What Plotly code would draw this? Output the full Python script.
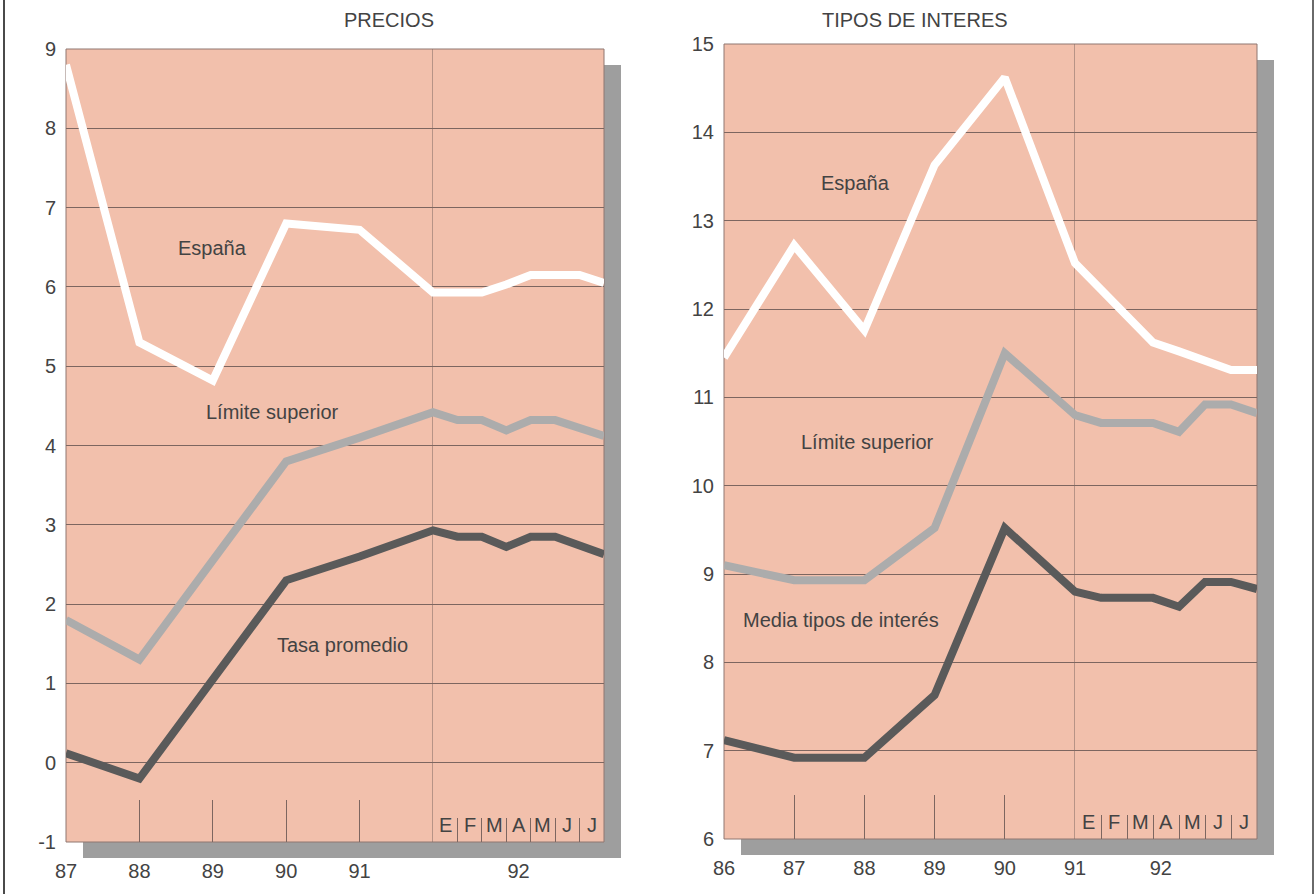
import plotly.graph_objects as go

# ---------------------------------------------------------------
# Data
# ---------------------------------------------------------------
meses = ["E", "F", "M", "A", "M", "J", "J"]

# PRECIOS: annual points (last one = start of 1992) and monthly 1992
precios_anios = [87, 88, 89, 90, 91, 92]
precios_etiquetas = ["87", "88", "89", "90", "91"]
precios_escala = [-1, 0, 1, 2, 3, 4, 5, 6, 7, 8, 9]
precios_espana_anual = [8.8, 5.3, 4.82, 6.8, 6.72, 5.93]
precios_espana_mes = [5.93, 5.93, 6.03, 6.15, 6.15, 6.15, 6.05]
precios_limite_anual = [1.8, 1.3, 2.55, 3.8, 4.1, 4.42]
precios_limite_mes = [4.32, 4.32, 4.19, 4.32, 4.32, 4.22, 4.12]
precios_tasa_anual = [0.12, -0.2, 1.05, 2.3, 2.6, 2.93]
precios_tasa_mes = [2.85, 2.85, 2.72, 2.85, 2.85, 2.74, 2.63]

# TIPOS DE INTERES
interes_anios = [86, 87, 88, 89, 90, 91]
interes_etiquetas = ["86", "87", "88", "89", "90", "91"]
interes_escala = [6, 7, 8, 9, 10, 11, 12, 13, 14, 15]
interes_espana_anual = [11.45, 12.72, 11.76, 13.63, 14.62, 12.52]
interes_espana_mes = [12.22, 11.92, 11.62, 11.52, 11.41, 11.31, 11.31]
interes_limite_anual = [9.1, 8.93, 8.93, 9.52, 11.5, 10.8]
interes_limite_mes = [10.71, 10.71, 10.71, 10.61, 10.92, 10.92, 10.82]
interes_media_anual = [7.12, 6.92, 6.92, 7.63, 9.52, 8.8]
interes_media_mes = [8.73, 8.73, 8.73, 8.63, 8.91, 8.91, 8.83]

# ---------------------------------------------------------------
# Styling / geometry
# ---------------------------------------------------------------
W, H = 1316, 894
FONT = "Liberation Sans, Arial, sans-serif"
TXT = "#434343"
SALMON = "#f2c0ac"
SHADOW = "#9e9e9e"
GRID = "#7d6660"
C_ESP = "#ffffff"
C_LIM = "#acacac"
C_MED = "#5a5a5a"
LW = 8


def fx(p):
    return p / W


def fy(p):
    return 1 - p / H


# panel pixel boxes: left, boundary (start of 1992), right, top, bottom
PANELS = {
    "L": dict(x0=66, xb=433, x1=604, y0=49, y1=842),
    "R": dict(x0=724, xb=1075, x1=1257, y0=44, y1=839),
}
SH_DX, SH_DY = 17, 16
N_YEARS = 5

fig = go.Figure()


def month_in_years(p):
    """Width of one month of the monthly section, in units of the annual axis."""
    return ((p["x1"] - p["xb"]) / len(meses)) / ((p["xb"] - p["x0"]) / N_YEARS)


def add_series(p, anios, anual, mes, color, xa, xm, ya):
    r = month_in_years(p)
    # annual section: carried one step into 1992 so the joint is drawn whole
    fig.add_trace(go.Scatter(
        x=anios + [anios[-1] + r], y=anual + [mes[0]],
        xaxis=xa, yaxis=ya, mode="lines",
        line=dict(color=color, width=LW), hoverinfo="skip", showlegend=False))
    # monthly section: starts from the previous annual point (clipped away)
    fig.add_trace(go.Scatter(
        x=[-1 / r, 0] + list(range(1, len(mes) + 1)),
        y=[anual[-2], anual[-1]] + mes,
        xaxis=xm, yaxis=ya, mode="lines",
        line=dict(color=color, width=LW), hoverinfo="skip", showlegend=False))


L, R = PANELS["L"], PANELS["R"]
add_series(L, precios_anios, precios_limite_anual, precios_limite_mes, C_LIM, "x", "x2", "y")
add_series(L, precios_anios, precios_tasa_anual, precios_tasa_mes, C_MED, "x", "x2", "y")
add_series(L, precios_anios, precios_espana_anual, precios_espana_mes, C_ESP, "x", "x2", "y")

add_series(R, interes_anios, interes_limite_anual, interes_limite_mes, C_LIM, "x3", "x4", "y2")
add_series(R, interes_anios, interes_media_anual, interes_media_mes, C_MED, "x3", "x4", "y2")
add_series(R, interes_anios, interes_espana_anual, interes_espana_mes, C_ESP, "x3", "x4", "y2")

tickfont = dict(family=FONT, size=20, color=TXT)


def annual_axis(p, anios, etiquetas, ya, ticklen):
    return dict(
        domain=[fx(p["x0"]), fx(p["xb"])], range=[anios[0], anios[0] + N_YEARS],
        anchor=ya, tickvals=anios[:len(etiquetas)], ticktext=etiquetas,
        ticks="inside", ticklen=ticklen, tickcolor=GRID, tickwidth=1,
        showgrid=False, zeroline=False, showline=False, automargin=False,
        tickfont=tickfont, ticklabelstandoff=15, fixedrange=True)


def month_axis(p, ya, pos92):
    return dict(
        domain=[fx(p["xb"]), fx(p["x1"])], range=[0, len(meses)],
        anchor=ya, tickvals=[pos92], ticktext=["92"], ticks="",
        minor=dict(tickvals=list(range(1, len(meses))), ticks="inside",
                   ticklen=24, tickcolor=GRID, tickwidth=1, showgrid=False),
        showgrid=False, zeroline=False, showline=False, automargin=False,
        tickfont=tickfont, ticklabelstandoff=15, fixedrange=True)


def value_axis(p, escala, xa):
    return dict(
        domain=[fy(p["y1"]), fy(p["y0"])], range=[escala[0], escala[-1]],
        anchor=xa, tickvals=escala, ticktext=[str(v) for v in escala],
        showgrid=True, gridcolor=GRID, gridwidth=1,
        zeroline=False, showline=False, ticks="", automargin=False,
        tickfont=tickfont, ticklabelstandoff=9, fixedrange=True)


fig.update_layout(
    xaxis=annual_axis(L, precios_anios, precios_etiquetas, "y", 42),
    xaxis2=month_axis(L, "y", 3.5),
    yaxis=value_axis(L, precios_escala, "x"),
    xaxis3=annual_axis(R, interes_anios, interes_etiquetas, "y2", 44),
    xaxis4=month_axis(R, "y2", 3.3),
    yaxis2=value_axis(R, interes_escala, "x3"),
)

shapes = []
for key, p in PANELS.items():
    # drop shadow and the salmon panel
    shapes.append(dict(type="rect", xref="paper", yref="paper", layer="below",
                       x0=fx(p["x0"] + SH_DX), x1=fx(p["x1"] + SH_DX),
                       y0=fy(p["y1"] + SH_DY), y1=fy(p["y0"] + SH_DY),
                       fillcolor=SHADOW, line=dict(width=0)))
    shapes.append(dict(type="rect", xref="paper", yref="paper", layer="below",
                       x0=fx(p["x0"]), x1=fx(p["x1"]),
                       y0=fy(p["y1"]), y1=fy(p["y0"]),
                       fillcolor=SALMON, line=dict(color="#8f7770", width=1)))

# full-height divider at the start of the monthly section
shapes.append(dict(type="line", xref="x", yref="y domain", layer="below",
                   x0=precios_anios[-1], x1=precios_anios[-1], y0=0, y1=1,
                   line=dict(color=GRID, width=1)))
shapes.append(dict(type="line", xref="x3", yref="y2 domain", layer="below",
                   x0=interes_anios[-1], x1=interes_anios[-1], y0=0, y1=1,
                   line=dict(color=GRID, width=1)))

# page edges
shapes.append(dict(type="line", xref="paper", yref="paper", x0=fx(4), x1=fx(4),
                   y0=0, y1=1, line=dict(color="#4a4a4a", width=2)))
shapes.append(dict(type="line", xref="paper", yref="paper", x0=fx(1313), x1=fx(1313),
                   y0=0, y1=1, line=dict(color="#6a6a6a", width=2)))

annotations = []
lab_font = dict(family=FONT, size=20, color=TXT)

# panel titles
annotations.append(dict(text="PRECIOS", xref="paper", yref="paper",
                        x=fx(342), y=fy(20), yanchor="middle", showarrow=False,
                        font=lab_font))
annotations.append(dict(text="TIPOS DE INTERES", xref="paper", yref="paper",
                        x=fx(1010), y=fy(20), yanchor="middle", showarrow=False,
                        font=lab_font))

# month initials inside the monthly sections
for xm, ydom in (("x2", "y domain"), ("x4", "y2 domain")):
    for k, m in enumerate(meses):
        annotations.append(dict(text=m, xref=xm, yref=ydom, x=k + 0.5, y=0.021,
                                yanchor="middle", showarrow=False,
                                font=dict(family=FONT, size=20, color=TXT)))

# series labels
series_labels = [
    ("España", "x", "y", 88.99, 6.49),
    ("Límite superior", "x", "y", 89.81, 4.42),
    ("Tasa promedio", "x", "y", 90.77, 1.49),
    ("España", "x3", "y2", 87.87, 13.43),
    ("Límite superior", "x3", "y2", 88.05, 10.49),
    ("Media tipos de interés", "x3", "y2", 87.67, 8.48),
]
for text, xr, yr, xv, yv in series_labels:
    annotations.append(dict(text=text, xref=xr, yref=yr, x=xv, y=yv,
                            showarrow=False, font=lab_font))

fig.update_layout(
    template="none",
    width=W, height=H,
    margin=dict(l=0, r=0, t=0, b=0, pad=0, autoexpand=False),
    paper_bgcolor="#ffffff",
    plot_bgcolor="rgba(0,0,0,0)",
    shapes=shapes,
    annotations=annotations,
    showlegend=False,
    font=dict(family=FONT, color=TXT),
)

fig.write_html("out.html")
